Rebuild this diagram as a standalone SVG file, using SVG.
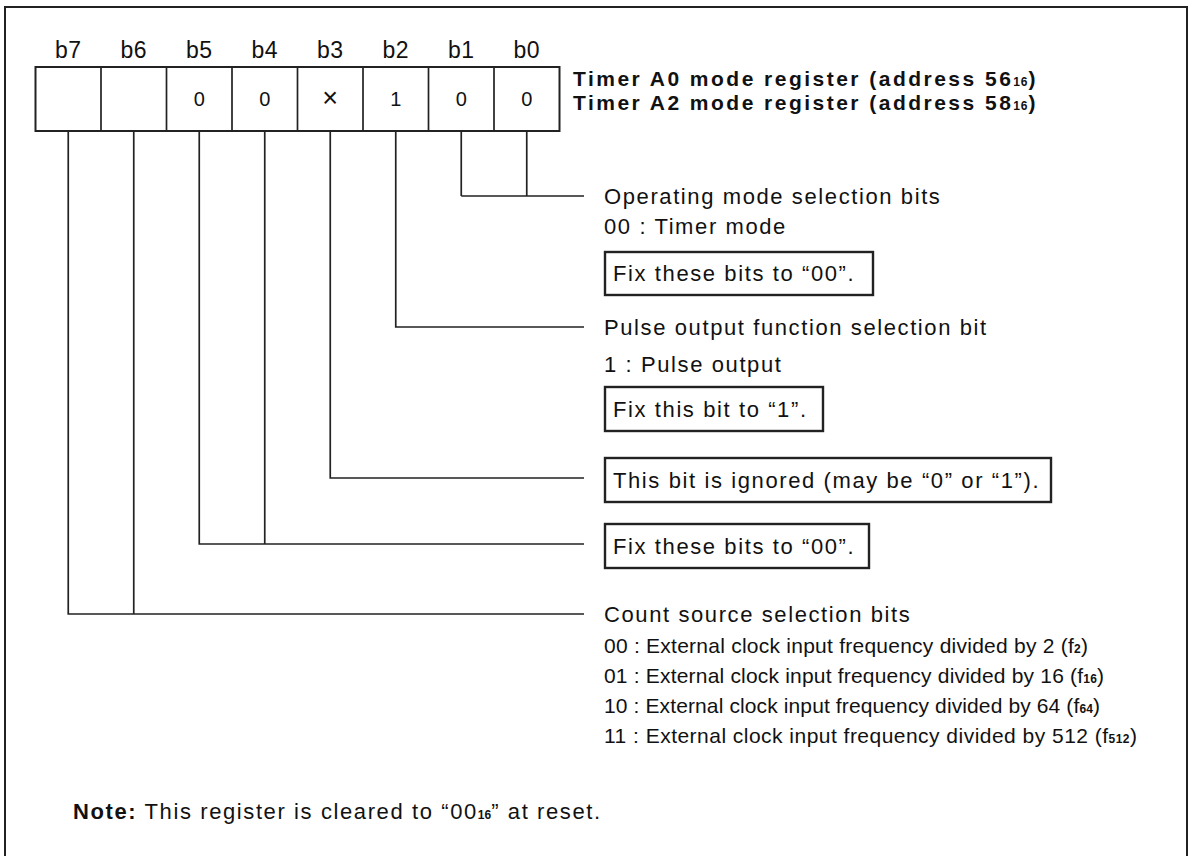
<svg xmlns="http://www.w3.org/2000/svg" width="1191" height="856" viewBox="0 0 1191 856">
<style>
.t{font-family:"Liberation Sans",Arial,Helvetica,sans-serif;font-size:22px;letter-spacing:1.6px;fill:#111}
.b{font-weight:bold}
.ttl{font-size:21px;font-weight:bold}
.lbl{font-size:23px;letter-spacing:0.5px;text-anchor:middle}
.val{font-size:20px;letter-spacing:0;text-anchor:middle}
.lst{font-size:21px;letter-spacing:0}
.sub{font-size:12px;font-weight:bold;letter-spacing:0}
.ln{stroke:#222;stroke-width:1.7;fill:none}
.cell{stroke:#222;stroke-width:2;fill:#fff}
.box{stroke:#222;stroke-width:2.4;fill:none}
</style>
<rect x="5" y="7" width="1182" height="870" fill="#fff" stroke="#222" stroke-width="2"/>
<g id="register">
<rect class="cell" x="35.5" y="67" width="524" height="64"/>
<path class="ln" d="M101 67V131M166.5 67V131M232 67V131M297.5 67V131M363 67V131M428.5 67V131M494 67V131" stroke-width="1.8"/>
<g class="t lbl">
<text x="68.25" y="58">b7</text><text x="133.75" y="58">b6</text><text x="199.25" y="58">b5</text><text x="264.75" y="58">b4</text>
<text x="330.25" y="58">b3</text><text x="395.75" y="58">b2</text><text x="461.25" y="58">b1</text><text x="526.75" y="58">b0</text>
</g>
<g class="t val">
<text x="199.25" y="106">0</text><text x="264.75" y="106">0</text><text x="330.25" y="107" font-size="27">×</text><text x="395.75" y="106">1</text><text x="461.25" y="106">0</text><text x="526.75" y="106">0</text>
</g>
</g>
<g id="title">
<text class="t ttl" x="573" y="86" textLength="464" lengthAdjust="spacing">Timer A0 mode register (address 56<tspan class="sub">16</tspan>)</text>
<text class="t ttl" x="573" y="110" textLength="464" lengthAdjust="spacing">Timer A2 mode register (address 58<tspan class="sub">16</tspan>)</text>
</g>
<g id="connectors">
<path class="ln" d="M461.25 131V196M526.75 131V196M461.25 196H584"/>
<path class="ln" d="M395.75 131V327H584"/>
<path class="ln" d="M330.25 131V478H584"/>
<path class="ln" d="M264.75 131V544M199.25 131V544H584"/>
<path class="ln" d="M133.75 131V614M68.25 131V614H584"/>
</g>
<g id="op-mode">
<text class="t" x="604" y="204">Operating mode selection bits</text>
<text class="t" x="604" y="234">00 : Timer mode</text>
<rect class="box" x="605" y="252" width="268" height="43"/>
<text class="t" x="613" y="281">Fix these bits to “00”.</text>
</g>
<g id="pulse">
<text class="t" x="604" y="335">Pulse output function selection bit</text>
<text class="t" x="604" y="372">1 : Pulse output</text>
<rect class="box" x="605" y="387" width="218" height="44"/>
<text class="t" x="613" y="417">Fix this bit to “1”.</text>
</g>
<g id="b3-note">
<rect class="box" x="605" y="458" width="446" height="44"/>
<text class="t" x="613" y="488">This bit is ignored (may be “0” or “1”).</text>
</g>
<g id="b54-note">
<rect class="box" x="605" y="524" width="264" height="44"/>
<text class="t" x="613" y="554">Fix these bits to “00”.</text>
</g>
<g id="count-source">
<text class="t" x="604" y="622">Count source selection bits</text>
<text class="t lst" x="604" y="653" textLength="484" lengthAdjust="spacing">00 : External clock input frequency divided by 2 (f<tspan class="sub">2</tspan>)</text>
<text class="t lst" x="604" y="683" textLength="500" lengthAdjust="spacing">01 : External clock input frequency divided by 16 (f<tspan class="sub">16</tspan>)</text>
<text class="t lst" x="604" y="713" textLength="496" lengthAdjust="spacing">10 : External clock input frequency divided by 64 (f<tspan class="sub">64</tspan>)</text>
<text class="t lst" x="604" y="743" textLength="533" lengthAdjust="spacing">11 : External clock input frequency divided by 512 (f<tspan class="sub">512</tspan>)</text>
</g>
<g id="note">
<text class="t" x="73" y="819"><tspan class="b">Note:</tspan> This register is cleared to “00<tspan class="sub">16</tspan>” at reset.</text>
</g>
</svg>
